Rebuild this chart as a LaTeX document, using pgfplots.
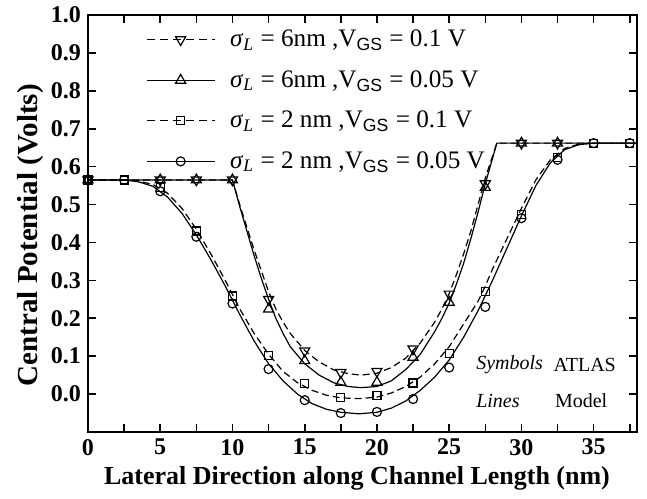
\documentclass[border=0pt]{standalone}
\usepackage{pgfplots}
\pgfplotsset{compat=1.18}
\usepackage{fontspec}
\setmainfont{Liberation Serif}
\setsansfont{Liberation Sans}

\begin{document}
\begin{tikzpicture}
\begin{axis}[
  scale only axis,
  width=274.5pt, height=208.5pt,
  xmin=0, xmax=38, ymin=-0.1, ymax=1.0,
  xtick={0,5,...,35},
  minor xtick={2.5,7.5,...,37.5},
  ytick={0,0.1,...,1.0},
  yticklabel style={/pgf/number format/.cd, fixed, fixed zerofill, precision=1},
  tick align=inside,
  major tick length=4pt, minor tick length=4pt,
  tick style={line width=0.8pt, black},
  axis line style={line width=1pt},
  tick label style={font=\fontsize{12}{14}\selectfont\bfseries, /pgf/number format/assume math mode=true},
  xlabel={Lateral Direction along Channel Length (nm)},
  ylabel={Central Potential (Volts)},
  xlabel style={font=\fontsize{13}{15}\selectfont\bfseries, at={(rel axis cs:0.49,0)}, anchor=center, yshift=-23pt},
  ylabel style={font=\fontsize{14.5}{16}\selectfont\bfseries, at={(rel axis cs:0,0.472)}, anchor=center, yshift=28.5pt},
  legend cell align=left,
  legend style={at={(rel axis cs:0.105,0.975)}, anchor=north west, draw=none, fill=none,
    font=\fontsize{12.6}{15.2}\selectfont, row sep=6.4pt, inner sep=0pt,
    /tikz/every odd column/.append style={column sep=5.5pt}},
  legend image code/.code={\draw[mark repeat=2,mark phase=2,#1] plot coordinates {(0pt,0pt)(17pt,0pt)(34pt,0pt)};},
]
\coordinate (sw) at (rel axis cs:0,0);
\coordinate (ne) at (rel axis cs:1,1);

% legend entries
\addlegendimage{black, line width=0.6pt, dash pattern=on 4pt off 2.5pt, mark=triangle, mark size=2.9pt, mark options={solid, rotate=180, line width=0.6pt}}
\addlegendentry{\textit{σ}\textsubscript{\textit{L}} = 6nm ,V\textsubscript{\sffamily GS} = 0.1 V}
\addlegendimage{black, line width=0.6pt, mark=triangle, mark size=2.9pt, mark options={solid, line width=0.6pt}}
\addlegendentry{\textit{σ}\textsubscript{\textit{L}} = 6nm ,V\textsubscript{\sffamily GS} = 0.05 V}
\addlegendimage{black, line width=0.6pt, dash pattern=on 4pt off 2.5pt, mark=square, mark size=2pt, mark options={solid, line width=0.6pt}}
\addlegendentry{\textit{σ}\textsubscript{\textit{L}} = 2 nm ,V\textsubscript{\sffamily GS} = 0.1 V}
\addlegendimage{black, line width=0.6pt, mark=o, mark size=2.25pt, mark options={solid, line width=0.6pt}}
\addlegendentry{\textit{σ}\textsubscript{\textit{L}} = 2 nm ,V\textsubscript{\sffamily GS} = 0.05 V}

% Model lines
\addplot[forget plot, black, line width=0.6pt, dash pattern=on 3.5pt off 2pt] coordinates {
(0,0.565) (10,0.565) (10.5,0.50) (11,0.44) (11.5,0.38) (12,0.325) (12.5,0.27) (13,0.225) (13.5,0.19) (14,0.16) (15,0.115) (16,0.085) (17,0.064) (18,0.054) (18.9,0.05) (20,0.055) (21,0.07) (22,0.095) (23,0.135) (24,0.19) (24.5,0.225) (25,0.265) (25.5,0.315) (26,0.37) (26.5,0.43) (27,0.5) (27.5,0.57) (28.3,0.662) (38,0.662)};
\addplot[forget plot, black, line width=0.6pt] coordinates {
(0,0.565) (10,0.565) (10.5,0.495) (11,0.43) (11.5,0.365) (12,0.305) (12.5,0.25) (13,0.2) (13.5,0.16) (14,0.125) (15,0.08) (16,0.05) (17,0.03) (18,0.02) (18.9,0.017) (20,0.02) (21,0.035) (22,0.065) (23,0.105) (24,0.165) (24.5,0.2) (25,0.24) (25.5,0.29) (26,0.345) (26.5,0.41) (27,0.48) (27.5,0.555) (28.3,0.662) (38,0.662)};
\addplot[forget plot, black, line width=0.6pt, dash pattern=on 3.5pt off 2pt] coordinates {
(0,0.565) (2.5,0.565) (3.5,0.562) (4.5,0.553) (5.5,0.53) (6.5,0.49) (7.5,0.435) (8.5,0.37) (9.5,0.3) (10.5,0.225) (11.5,0.16) (12.5,0.105) (13.5,0.06) (14.5,0.03) (15.5,0.01) (16.5,-0.003) (17.5,-0.01) (18.75,-0.012) (20,-0.008) (21,0.003) (22,0.02) (23,0.045) (24,0.08) (25,0.125) (26,0.185) (27,0.245) (27.5,0.285) (28,0.33) (29,0.41) (30,0.49) (31,0.565) (32,0.618) (33,0.648) (34,0.66) (35,0.662) (38,0.662)};
\addplot[forget plot, black, line width=0.6pt] coordinates {
(0,0.565) (2.5,0.565) (3.5,0.56) (4.5,0.548) (5.5,0.52) (6.5,0.477) (7.5,0.42) (8.5,0.355) (9.5,0.285) (10.5,0.21) (11.5,0.14) (12.5,0.08) (13.5,0.035) (14.5,0.0) (15.5,-0.025) (16.5,-0.04) (17.5,-0.048) (18.75,-0.052) (20,-0.048) (21,-0.037) (22,-0.018) (23,0.01) (24,0.045) (25,0.09) (26,0.15) (27,0.22) (28,0.3) (29,0.385) (30,0.47) (31,0.55) (32,0.61) (33,0.645) (34,0.658) (35,0.662) (38,0.662)};

% ATLAS symbols
\addplot[forget plot, only marks, black, mark=triangle, mark size=2.9pt, mark options={rotate=180, line width=0.6pt}] coordinates {
(0,0.565) (5,0.565) (7.5,0.565) (10,0.565) (12.5,0.25) (15,0.114) (17.5,0.057) (20,0.06) (22.5,0.119) (25,0.264) (27.5,0.555) (30,0.662) (32.5,0.662)};
\addplot[forget plot, only marks, black, mark=triangle, mark size=2.9pt, mark options={line width=0.6pt}] coordinates {
(0,0.565) (5,0.565) (7.5,0.565) (10,0.565) (12.5,0.224) (15,0.088) (17.5,0.031) (20,0.031) (22.5,0.097) (25,0.242) (27.5,0.545) (30,0.662) (32.5,0.662)};
\addplot[forget plot, only marks, black, mark=square, mark size=2pt, mark options={line width=0.6pt}] coordinates {
(0,0.565) (2.5,0.565) (5,0.545) (7.5,0.43) (10,0.259) (12.5,0.101) (15,0.028) (17.5,-0.009) (20,-0.004) (22.5,0.029) (25,0.108) (27.5,0.27) (30,0.474) (32.5,0.625) (35,0.662) (37.5,0.662)};
\addplot[forget plot, only marks, black, mark=o, mark size=2.25pt, mark options={line width=0.6pt}] coordinates {
(0,0.565) (2.5,0.565) (5,0.535) (7.5,0.415) (10,0.239) (12.5,0.066) (15,-0.016) (17.5,-0.05) (20,-0.047) (22.5,-0.013) (25,0.07) (27.5,0.23) (30,0.464) (32.5,0.618) (35,0.662) (37.5,0.662)};

\node[anchor=west, inner sep=0pt, font=\fontsize{10}{12}\selectfont] at (axis cs:26.85,0.077) {\textit{Symbols}};
\node[anchor=west, inner sep=0pt, font=\fontsize{10}{12}\selectfont] at (axis cs:32.2,0.077) {ATLAS};
\node[anchor=west, inner sep=0pt, font=\fontsize{10}{12}\selectfont] at (axis cs:26.85,-0.018) {\textit{Lines}};
\node[anchor=west, inner sep=0pt, font=\fontsize{10}{12}\selectfont] at (axis cs:32.3,-0.018) {Model};
\end{axis}
\pgfresetboundingbox
\path[use as bounding box] ([xshift=-44pt,yshift=-33pt]sw) rectangle ([xshift=5pt,yshift=7.5pt]ne);
\end{tikzpicture}
\end{document}
